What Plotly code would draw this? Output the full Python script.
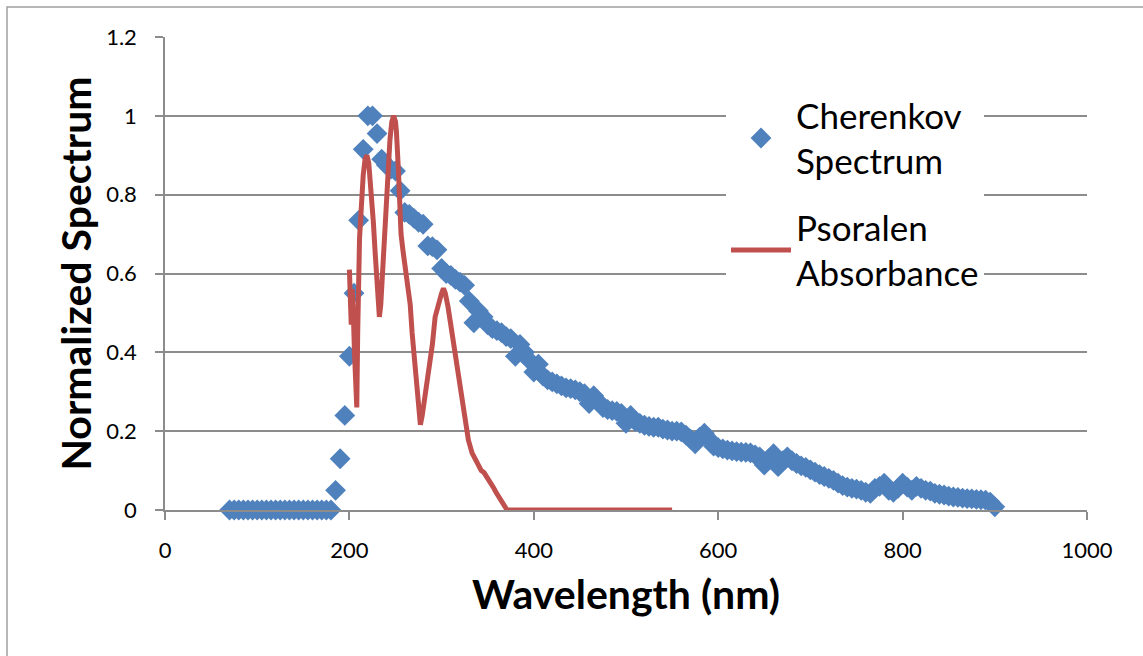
import plotly.graph_objects as go

# Cherenkov spectrum (normalized), wavelength in nm
cher_wl = list(range(70, 905, 5))
cher_val = [
    0, 0, 0, 0, 0, 0, 0, 0, 0, 0, 0, 0, 0, 0, 0, 0, 0, 0, 0, 0, 0, 0, 0,  # 70..180
    0.05, 0.13, 0.24, 0.39, 0.55, 0.735, 0.915, 1.0, 1.0, 0.955,          # 185..230
    0.89, 0.875, 0.865, 0.86, 0.81, 0.755, 0.75, 0.74, 0.73, 0.725,        # 235..280
    0.67, 0.668, 0.66, 0.613, 0.60, 0.595, 0.585, 0.578, 0.57, 0.53,       # 285..330
    0.475, 0.505, 0.49, 0.47, 0.46, 0.455, 0.45, 0.44, 0.435, 0.39,        # 335..380
    0.42, 0.40, 0.38, 0.35, 0.37, 0.34, 0.33, 0.325, 0.32, 0.315,          # 385..430
    0.31, 0.308, 0.305, 0.30, 0.295, 0.27, 0.29, 0.275, 0.26, 0.255,       # 435..480
    0.252, 0.25, 0.245, 0.22, 0.24, 0.225, 0.22, 0.215, 0.212, 0.21,       # 485..530
    0.21, 0.205, 0.203, 0.20, 0.20, 0.198, 0.19, 0.18, 0.168, 0.185,       # 535..580
    0.195, 0.18, 0.162, 0.158, 0.155, 0.152, 0.15, 0.148, 0.147, 0.146,    # 585..630
    0.145, 0.14, 0.135, 0.114, 0.13, 0.143, 0.11, 0.125, 0.135, 0.125,     # 635..680
    0.118, 0.112, 0.108, 0.102, 0.096, 0.09, 0.085, 0.08, 0.075, 0.068,    # 685..730
    0.062, 0.058, 0.055, 0.053, 0.05, 0.045, 0.042, 0.055, 0.06, 0.068,    # 735..780
    0.05, 0.045, 0.055, 0.068, 0.058, 0.05, 0.06, 0.055, 0.05, 0.048,      # 785..830
    0.042, 0.04, 0.038, 0.035, 0.033, 0.032, 0.03, 0.029, 0.028, 0.027,    # 835..880
    0.026, 0.025, 0.02, 0.008,                                             # 885..900
]

# Psoralen absorbance (normalized)
pso_wl = [200, 201, 202, 203, 204, 205.5, 207, 208, 209, 210, 211, 212, 213, 215,
          217, 219, 221, 223, 224, 226, 228, 230, 232.5, 234, 236, 238, 240, 242,
          244, 246, 248, 250, 251, 253, 254, 256, 258, 260, 263, 266, 268, 271,
          274, 276, 277, 279, 282, 285, 287, 290, 293, 296, 298, 300, 302, 304,
          307, 310, 314, 318, 322, 326, 329, 333, 336, 340, 343, 346, 349, 352,
          354, 356, 359, 361, 363, 366, 369, 371, 400, 450, 500, 550]
pso_val = [0.61, 0.55, 0.47, 0.56, 0.52, 0.40, 0.30, 0.26, 0.45, 0.66, 0.69, 0.73,
           0.79, 0.85, 0.89, 0.90, 0.88, 0.83, 0.81, 0.73, 0.65, 0.56, 0.49, 0.52,
           0.60, 0.70, 0.79, 0.88, 0.94, 0.985, 1.0, 0.985, 0.96, 0.87, 0.79, 0.70,
           0.66, 0.62, 0.57, 0.52, 0.45, 0.36, 0.28, 0.225, 0.216, 0.24, 0.29, 0.33,
           0.37, 0.42, 0.49, 0.52, 0.54, 0.55, 0.562, 0.55, 0.515, 0.47, 0.405, 0.34,
           0.28, 0.22, 0.178, 0.145, 0.13, 0.115, 0.10, 0.095, 0.085, 0.075, 0.068,
           0.058, 0.045, 0.038, 0.03, 0.015, 0.005, 0, 0, 0, 0, 0]

x_ticks = [0, 200, 400, 600, 800, 1000]
y_ticks = [0, 0.2, 0.4, 0.6, 0.8, 1.0, 1.2]
y_tick_text = ["0", "0.2", "0.4", "0.6", "0.8", "1", "1.2"]

BLUE = "#4f81bd"
RED = "#c0504d"
GRID = "#8c8c8c"
FONT = "Lato"

fig = go.Figure()
fig.add_trace(go.Scatter(
    x=cher_wl, y=cher_val, mode="markers", name="Cherenkov<br>Spectrum",
    marker=dict(symbol="diamond", size=16, color=BLUE, line=dict(width=0)),
    legendgroup="a", cliponaxis=False,
))
fig.add_trace(go.Scatter(
    x=pso_wl, y=pso_val, mode="lines", name="Psoralen<br>Absorbance",
    line=dict(color=RED, width=5), legendgroup="b", cliponaxis=False,
))

W, H = 1143, 656
L, R, T, B = 165, 1087, 37, 510
fig.update_layout(
    width=W, height=H,
    margin=dict(l=L, r=W - R, t=T, b=H - B, pad=0),
    paper_bgcolor="white", plot_bgcolor="white",
    font=dict(family=FONT, color="black"),
    showlegend=True,
    legend=dict(
        x=(726 - L) / (R - L), y=(B - 86) / (B - T), xanchor="left", yanchor="top",
        bgcolor="white", borderwidth=0, font=dict(size=35, family=FONT),
        itemwidth=60, traceorder="grouped", tracegroupgap=18,
    ),
    xaxis=dict(
        range=[0, 1000], tickvals=x_ticks, showgrid=False, zeroline=False,
        showline=True, linecolor=GRID, linewidth=1.5,
        ticks="outside", ticklen=8, tickcolor=GRID, tickwidth=1.5,
        tickfont=dict(size=22, family=FONT), ticklabelstandoff=12,
        title=dict(text="<b>Wavelength (nm)</b>", font=dict(size=41, family=FONT), standoff=18),
    ),
    yaxis=dict(
        range=[0, 1.2], tickvals=y_ticks, ticktext=y_tick_text,
        showgrid=True, gridcolor=GRID, gridwidth=1.5, zeroline=False,
        showline=True, linecolor=GRID, linewidth=1.5,
        ticks="outside", ticklen=8, tickcolor=GRID, tickwidth=1.5,
        tickfont=dict(size=22, family=FONT), ticklabelstandoff=14,
        title=dict(text="<b>Normalized Spectrum</b>", font=dict(size=41, family=FONT), standoff=2),
    ),
)

# outer chart border
fig.add_shape(type="rect", xref="paper", yref="paper",
              x0=(7 - L) / (R - L), x1=(1160 - L) / (R - L),
              y0=(B - 680) / (B - T), y1=(B - 7) / (B - T),
              line=dict(color="#a0a0a0", width=1.5), fillcolor="rgba(0,0,0,0)", layer="below")

fig.write_html("out.html", config={"displayModeBar": False},
               post_script="document.body.style.margin='0px';")
